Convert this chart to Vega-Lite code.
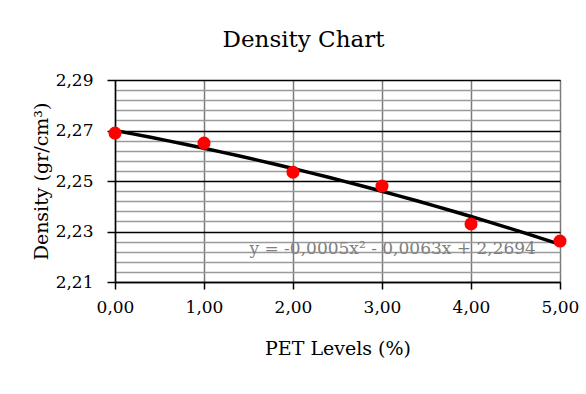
{
  "$schema": "https://vega.github.io/schema/vega-lite/v6.json",
  "autosize": {"type": "none"},
  "width": 445,
  "height": 202,
  "padding": {"left": 115, "top": 80, "right": 26, "bottom": 112},
  "background": "white",
  "title": {
    "text": "Density Chart",
    "font": "DejaVu Serif",
    "fontSize": 23,
    "fontWeight": "normal",
    "color": "black",
    "anchor": "middle",
    "dx": -34,
    "offset": 19
  },
  "config": {
    "view": {"stroke": "black", "strokeWidth": 1},
    "font": "DejaVu Serif"
  },
  "datasets": {
    "points": [
      {"pet": 0, "density": 2.269},
      {"pet": 1, "density": 2.265},
      {"pet": 2, "density": 2.2535},
      {"pet": 3, "density": 2.248},
      {"pet": 4, "density": 2.233},
      {"pet": 5, "density": 2.2262}
    ],
    "note": [
      {"pet": 3.12, "density": 2.2229, "label": "y = -0,0005x² - 0,0063x + 2,2694"}
    ]
  },
  "layer": [
    {
      "data": {"name": "points"},
      "transform": [
        {"regression": "density", "on": "pet", "method": "poly", "order": 2, "extent": [0, 5]}
      ],
      "mark": {"type": "line", "color": "black", "strokeWidth": 3.5},
      "encoding": {
        "x": {
          "field": "pet", "type": "quantitative",
          "scale": {"domain": [0, 5], "nice": false},
          "axis": {
            "title": "PET Levels (%)",
            "values": [0, 1, 2, 3, 4, 5],
            "tickCount": 100,
            "labelExpr": "replace(format(datum.value, '.2f'), '.', ',')",
            "labelFont": "DejaVu Serif",
            "labelFontSize": 17,
            "labelColor": "black",
            "labelPadding": 10,
            "labelFlush": false,
            "titleFont": "DejaVu Serif",
            "titleFontSize": 19,
            "titleFontWeight": "normal",
            "titleColor": "black",
            "titlePadding": 24,
            "domainColor": "black",
            "domainWidth": 1.5,
            "tickColor": "black",
            "tickSize": 7,
            "tickWidth": 1.5,
            "grid": true,
            "gridColor": "#7a7a7a",
            "gridWidth": 1.5
          }
        },
        "y": {
          "field": "density", "type": "quantitative",
          "scale": {"domain": [2.21, 2.29], "nice": false, "zero": false},
          "axis": {
            "title": "Density (gr/cm³)",
            "values": [2.21, 2.214, 2.218, 2.222, 2.226, 2.23, 2.234, 2.238, 2.242, 2.246, 2.25, 2.254, 2.258, 2.262, 2.266, 2.27, 2.274, 2.278, 2.282, 2.286, 2.29],
            "tickCount": 100,
            "labelOverlap": false,
            "labelExpr": "abs(datum.value*50 - 0.5 - round(datum.value*50 - 0.5)) < 0.01 ? replace(format(datum.value, '.2f'), '.', ',') : ''",
            "labelFont": "DejaVu Serif",
            "labelFontSize": 17,
            "labelColor": "black",
            "labelPadding": 14,
            "titleFont": "DejaVu Serif",
            "titleFontSize": 19,
            "titleFontWeight": "normal",
            "titleColor": "black",
            "titlePadding": 4,
            "domainColor": "black",
            "domainWidth": 1.5,
            "tickSize": 8,
            "tickWidth": 1.5,
            "tickColor": "black",
            "tickOpacity": {"condition": {"test": "abs(datum.value*50 - 0.5 - round(datum.value*50 - 0.5)) < 0.01", "value": 1}, "value": 0},
            "grid": true,
            "gridColor": {"condition": {"test": "abs(datum.value*50 - 0.5 - round(datum.value*50 - 0.5)) < 0.01", "value": "black"}, "value": "#9a9a9a"},
            "gridWidth": 1.5
          }
        }
      }
    },
    {
      "data": {"name": "points"},
      "mark": {"type": "circle", "color": "#ff0000", "opacity": 1, "size": 170},
      "encoding": {
        "x": {"field": "pet", "type": "quantitative"},
        "y": {"field": "density", "type": "quantitative"}
      }
    },
    {
      "data": {"name": "note"},
      "mark": {"type": "text", "font": "DejaVu Serif", "fontSize": 17, "color": "#7f7f7f", "align": "center", "baseline": "middle"},
      "encoding": {
        "x": {"field": "pet", "type": "quantitative"},
        "y": {"field": "density", "type": "quantitative"},
        "text": {"field": "label"}
      }
    }
  ]
}
